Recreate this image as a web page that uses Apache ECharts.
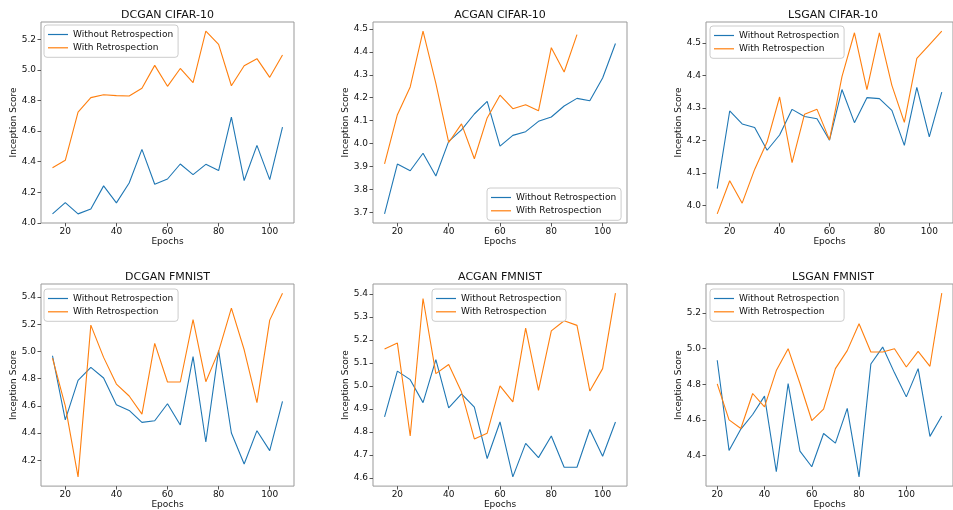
<!DOCTYPE html>
<html>
<head>
<meta charset="utf-8">
<script src="https://cdn.jsdelivr.net/npm/echarts@6/dist/echarts.min.js"></script>
<style>
html,body{margin:0;padding:0;background:#fff;}
#chart{width:953px;height:510px;}
</style>
</head>
<body>
<div id="chart"></div>
<script>
// ---- Data ----
const epochsA = [15,20,25,30,35,40,45,50,55,60,65,70,75,80,85,90,95,100,105];
const epochsB = [20,25,30,35,40,45,50,55,60,65,70,75,80,85,90,95,100,105,110,115];
const epochsAcganCifarWith = [15,20,25,30,35,40,45,50,55,60,65,70,75,80,85,90];

const dcganCifarWithout = [4.059,4.133,4.059,4.091,4.242,4.131,4.261,4.481,4.253,4.287,4.385,4.316,4.383,4.342,4.692,4.277,4.507,4.283,4.627];
const dcganCifarWith    = [4.361,4.409,4.725,4.819,4.838,4.832,4.830,4.880,5.030,4.893,5.010,4.917,5.254,5.167,4.897,5.028,5.074,4.952,5.098];

const acganCifarWithout = [3.694,3.911,3.882,3.958,3.859,4.010,4.060,4.129,4.184,3.989,4.036,4.052,4.097,4.116,4.164,4.197,4.187,4.286,4.436];
const acganCifarWith    = [3.912,4.126,4.247,4.490,4.262,4.005,4.086,3.934,4.112,4.211,4.152,4.169,4.143,4.418,4.312,4.475];

const lsganCifarWithout = [4.052,4.291,4.251,4.240,4.170,4.217,4.296,4.274,4.267,4.201,4.357,4.255,4.332,4.329,4.293,4.185,4.364,4.211,4.349];
const lsganCifarWith    = [3.974,4.076,4.007,4.111,4.196,4.334,4.132,4.281,4.296,4.202,4.397,4.532,4.357,4.532,4.370,4.256,4.453,4.495,4.537];

const dcganFmnistWithout = [4.969,4.498,4.788,4.883,4.805,4.609,4.567,4.479,4.491,4.616,4.460,4.962,4.335,5.008,4.401,4.173,4.418,4.271,4.634];
const dcganFmnistWith    = [4.952,4.600,4.078,5.194,4.957,4.761,4.673,4.540,5.060,4.776,4.776,5.234,4.778,5.001,5.319,5.013,4.624,5.231,5.429];

const acganFmnistWithout = [4.865,5.064,5.027,4.927,5.114,4.904,4.965,4.907,4.684,4.843,4.604,4.750,4.688,4.782,4.646,4.646,4.810,4.694,4.843];
const acganFmnistWith    = [5.160,5.186,4.782,5.380,5.053,5.093,4.973,4.769,4.794,5.000,4.930,5.251,4.980,5.239,5.283,5.263,4.978,5.075,5.403];

const lsganFmnistWithout = [4.935,4.428,4.548,4.630,4.733,4.308,4.804,4.424,4.336,4.523,4.469,4.664,4.279,4.914,5.009,4.864,4.729,4.888,4.507,4.622];
const lsganFmnistWith    = [4.802,4.600,4.551,4.748,4.673,4.877,5.000,4.804,4.596,4.660,4.888,4.989,5.140,4.981,4.981,5.000,4.897,4.985,4.901,5.312];

const titles = ['DCGAN CIFAR-10','ACGAN CIFAR-10','LSGAN CIFAR-10','DCGAN FMNIST','ACGAN FMNIST','LSGAN FMNIST'];
const xTicks = [20,40,60,80,100];
const yTicks1 = [4.0,4.2,4.4,4.6,4.8,5.0,5.2];
const yTicks2 = [3.7,3.8,3.9,4.0,4.1,4.2,4.3,4.4,4.5];
const yTicks3 = [4.0,4.1,4.2,4.3,4.4,4.5];
const yTicks4 = [4.2,4.4,4.6,4.8,5.0,5.2,5.4];
const yTicks5 = [4.6,4.7,4.8,4.9,5.0,5.1,5.2,5.3,5.4];
const yTicks6 = [4.4,4.6,4.8,5.0,5.2];
const nameWithout = 'Without Retrospection';
const nameWith = 'With Retrospection';

// ---- Layout ----
const FONT = 'DejaVu Sans';
const BLUE = '#1f77b4', ORANGE = '#ff7f0e';
const panels = [
  {g:{left:41, top:22, width:253, height:201}, xs:epochsA, wo:dcganCifarWithout, xw:epochsA, w:dcganCifarWith, yt:yTicks1, lg:{left:44, top:25}},
  {g:{left:373, top:22, width:254, height:201}, xs:epochsA, wo:acganCifarWithout, xw:epochsAcganCifarWith, w:acganCifarWith, yt:yTicks2, lg:{left:487, top:188}},
  {g:{left:706, top:22, width:254, height:201}, xs:epochsA, wo:lsganCifarWithout, xw:epochsA, w:lsganCifarWith, yt:yTicks3, lg:{left:710, top:26}},
  {g:{left:41, top:284, width:253, height:203}, xs:epochsA, wo:dcganFmnistWithout, xw:epochsA, w:dcganFmnistWith, yt:yTicks4, lg:{left:44, top:289}},
  {g:{left:373, top:284, width:254, height:203}, xs:epochsA, wo:acganFmnistWithout, xw:epochsA, w:acganFmnistWith, yt:yTicks5, lg:{left:432, top:289}},
  {g:{left:706, top:284, width:254, height:203}, xs:epochsB, wo:lsganFmnistWithout, xw:epochsB, w:lsganFmnistWith, yt:yTicks6, lg:{left:710, top:289}}
];

function ext(arrs){
  let mn=Infinity,mx=-Infinity;
  arrs.forEach(a=>a.forEach(v=>{mn=Math.min(mn,v);mx=Math.max(mx,v);}));
  const m=(mx-mn)*0.05; return [mn-m,mx+m];
}

const option = {animation:false, backgroundColor:'#fff', grid:[], xAxis:[], yAxis:[], series:[], title:[], legend:[]};
panels.forEach((p,i)=>{
  option.grid.push(Object.assign({show:true, borderColor:'#999', borderWidth:1, backgroundColor:'transparent', containLabel:false}, p.g));
  const xe = ext([p.xs, p.xw]);
  const ye = ext([p.wo, p.w]);
  option.xAxis.push({type:'value', gridIndex:i, min:xe[0], max:xe[1],
    name:'Epochs', nameLocation:'middle', nameGap:13,
    nameTextStyle:{fontFamily:FONT, fontSize:9, color:'#111'},
    axisLine:{show:false}, splitLine:{show:false},
    axisTick:{show:true, length:3.5, lineStyle:{color:'#555'}, customValues:xTicks},
    axisLabel:{fontFamily:FONT, fontSize:9, color:'#111', margin:4, customValues:xTicks}
  });
  option.yAxis.push({type:'value', gridIndex:i, min:ye[0], max:ye[1],
    name:'Inception Score', nameLocation:'middle', nameGap:19, nameRotate:90,
    nameTextStyle:{fontFamily:FONT, fontSize:9, color:'#111'},
    axisLine:{show:false}, splitLine:{show:false},
    axisTick:{show:true, length:3.5, lineStyle:{color:'#555'}, customValues:p.yt},
    axisLabel:{fontFamily:FONT, fontSize:9, color:'#111', margin:5, customValues:p.yt, formatter:v=>Number(v).toFixed(1)}
  });
  option.series.push({type:'line', name:nameWithout, xAxisIndex:i, yAxisIndex:i, symbol:'none',
    lineStyle:{color:BLUE, width:1.1}, itemStyle:{color:BLUE},
    data:p.xs.map((x,k)=>[x,p.wo[k]])});
  option.series.push({type:'line', name:nameWith, xAxisIndex:i, yAxisIndex:i, symbol:'none',
    lineStyle:{color:ORANGE, width:1.1}, itemStyle:{color:ORANGE},
    data:p.xw.map((x,k)=>[x,p.w[k]])});
  option.title.push({text:titles[i], left:p.g.left + p.g.width/2, top:p.g.top - 12, textAlign:'center', padding:0,
    textStyle:{fontFamily:FONT, fontSize:11, fontWeight:'normal', color:'#111'}});
  option.legend.push({data:[nameWithout, nameWith], orient:'vertical', left:p.lg.left, top:p.lg.top,
    selectedMode:false, backgroundColor:'#fff', borderColor:'#ccc', borderWidth:1, borderRadius:3,
    icon:'rect', padding:[4,5,4,4], itemWidth:20, itemHeight:1.2, itemGap:2.3,
    textStyle:{fontFamily:FONT, fontSize:9, color:'#111', lineHeight:11}});
});

const chart = echarts.init(document.getElementById('chart'), null, {renderer:'canvas'});
chart.setOption(option);
</script>
</body>
</html>
